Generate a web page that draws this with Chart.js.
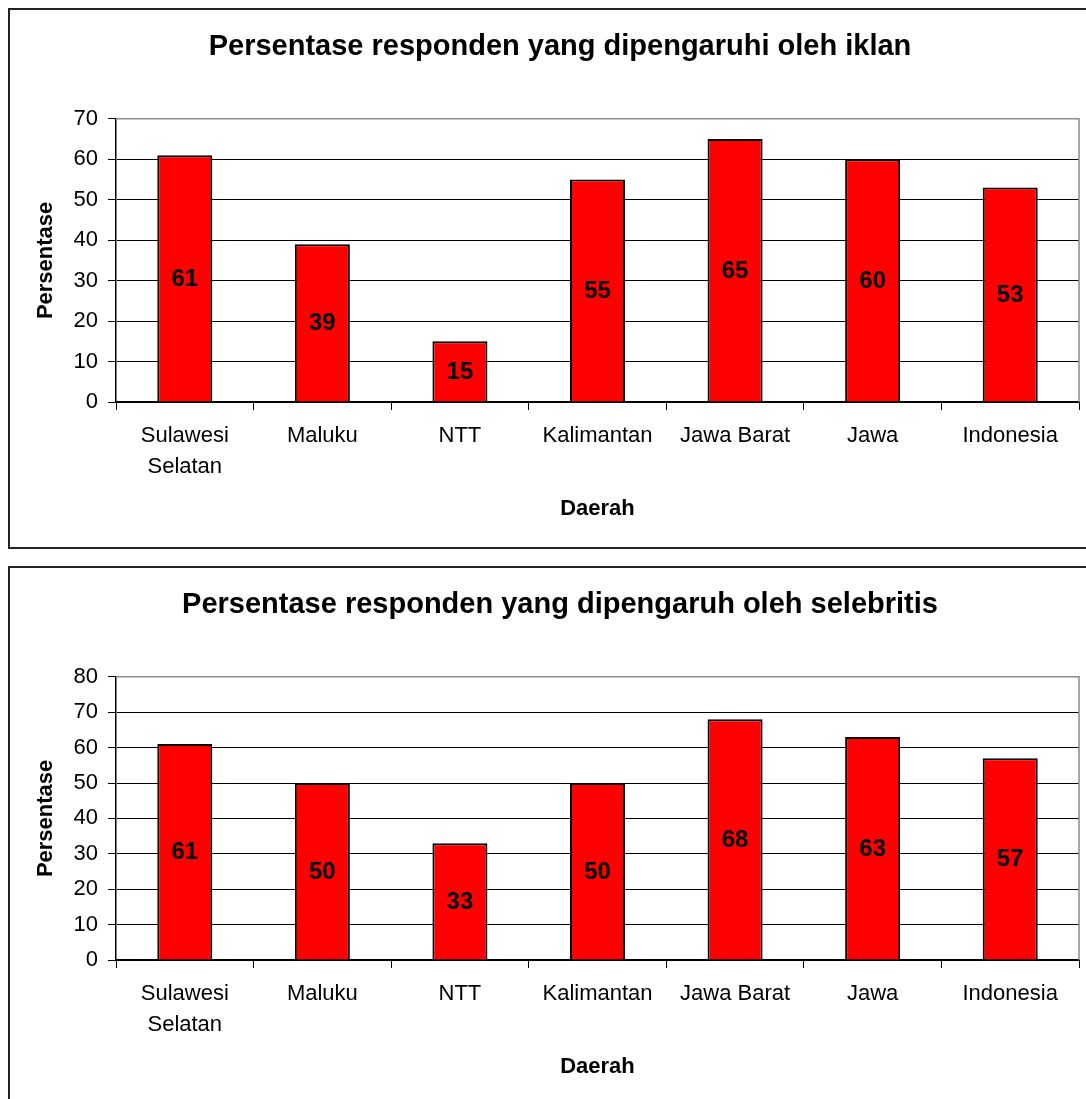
<!DOCTYPE html>
<html>
<head>
<meta charset="utf-8">
<title>Persentase responden</title>
<script src="https://cdn.jsdelivr.net/npm/chart.js@4.4.1/dist/chart.umd.min.js"></script>
<style>
  html, body { margin: 0; padding: 0; background: #fff; overflow: hidden; width: 1086px; height: 1099px; }
  .panel { position: absolute; left: 0; width: 1120px; height: 549px; }
  .panel .frame { position: absolute; left: 8px; top: 8px; width: 1110px; height: 537px; border: 2px solid #222; }
  .panel canvas { position: absolute; left: 0; top: 0; }
</style>
</head>
<body>
<div class="panel" style="top:0">
  <div class="frame"></div>
  <canvas id="iklan" width="1120" height="549"></canvas>
</div>
<div class="panel" style="top:558px">
  <div class="frame"></div>
  <canvas id="selebritis" width="1120" height="549"></canvas>
</div>
<script>
// Regions shown on the category axis
const daerah = [['Sulawesi', 'Selatan'], 'Maluku', 'NTT', 'Kalimantan', 'Jawa Barat', 'Jawa', 'Indonesia'];

// Percentage of respondents influenced by advertising
const persenIklan = [61, 39, 15, 55, 65, 60, 53];

// Percentage of respondents influenced by celebrities
const persenSelebritis = [61, 50, 33, 50, 68, 63, 57];

// Value axis limits for each chart
const sumbuIklan = { max: 70, step: 10 };
const sumbuSelebritis = { max: 80, step: 10 };

const FONT = 'Arial, "Liberation Sans", Helvetica, sans-serif';

// Writes each bar's value in the middle of the bar
const barValueLabels = {
  id: 'barValueLabels',
  afterDatasetsDraw(chart) {
    const ctx = chart.ctx;
    ctx.save();
    ctx.font = 'bold 24px ' + FONT;
    ctx.fillStyle = '#000';
    ctx.textAlign = 'center';
    ctx.textBaseline = 'middle';
    chart.data.datasets.forEach((ds, di) => {
      chart.getDatasetMeta(di).data.forEach((bar, i) => {
        const p = bar.getCenterPoint();
        ctx.fillText(String(ds.data[i]), p.x, p.y + 1);
      });
    });
    ctx.restore();
  }
};

// Grey outline along the top and right edges of the plot area
const plotOutline = {
  id: 'plotOutline',
  beforeDatasetsDraw(chart) {
    const a = chart.chartArea;
    const ctx = chart.ctx;
    ctx.save();
    ctx.strokeStyle = '#8c8c8c';
    ctx.lineWidth = 1.5;
    ctx.beginPath();
    ctx.moveTo(a.left, a.top);
    ctx.lineTo(a.right, a.top);
    ctx.lineTo(a.right, a.bottom);
    ctx.stroke();
    ctx.restore();
  }
};

function buatGrafik(id, judul, nilai, sumbu) {
  return new Chart(document.getElementById(id), {
    type: 'bar',
    data: {
      labels: daerah,
      datasets: [{
        data: nilai,
        backgroundColor: '#ff0000',
        borderColor: '#000',
        borderWidth: 2,
        barPercentage: 0.4,
        categoryPercentage: 1.0,
        yAxisID: 'y'
      }]
    },
    options: {
      responsive: false,
      animation: false,
      layout: { padding: 0 },
      plugins: {
        legend: { display: false },
        tooltip: { enabled: false },
        title: {
          display: true,
          text: judul,
          color: '#000',
          font: { family: FONT, size: 29, weight: 'bold', lineHeight: 1.2 },
          padding: { top: 30, bottom: 54 }
        }
      },
      scales: {
        x: {
          type: 'category',
          offset: true,
          grid: {
            display: true,
            offset: true,
            drawOnChartArea: false,
            drawTicks: true,
            tickLength: 8,
            color: '#000',
            lineWidth: 1
          },
          border: { display: true, color: '#000', width: 1.5 },
          ticks: {
            color: '#000',
            font: { family: FONT, size: 22, lineHeight: 1.4 },
            padding: 11,
            maxRotation: 0,
            autoSkip: false
          },
          title: {
            display: true,
            text: 'Daerah',
            color: '#000',
            font: { family: FONT, size: 22, weight: 'bold', lineHeight: 1.2 },
            padding: { top: 0, bottom: 27 }
          },
          afterFit(scale) { scale.height = 147; }
        },
        y: {
          position: 'left',
          min: 0,
          max: sumbu.max,
          ticks: {
            stepSize: sumbu.step,
            color: '#000',
            font: { family: FONT, size: 22 },
            padding: 10
          },
          grid: {
            color: ctx => (ctx.tick && ctx.tick.value === sumbu.max) ? 'rgba(0,0,0,0)' : '#000',
            lineWidth: 1,
            tickLength: 8,
            tickColor: '#000'
          },
          border: { display: true, color: '#000', width: 1.5 },
          title: {
            display: true,
            text: 'Persentase',
            color: '#000',
            font: { family: FONT, size: 22, weight: 'bold', lineHeight: 1.2 },
            padding: { top: 33, bottom: 0 }
          },
          afterFit(scale) { scale.width = 116; }
        },
        kanan: {
          position: 'right',
          display: true,
          ticks: { display: false },
          grid: { display: false },
          border: { display: false },
          afterFit(scale) { scale.width = 41; }
        }
      }
    },
    plugins: [plotOutline, barValueLabels]
  });
}

buatGrafik('iklan', 'Persentase responden yang dipengaruhi oleh iklan', persenIklan, sumbuIklan);
buatGrafik('selebritis', 'Persentase responden yang dipengaruh oleh selebritis', persenSelebritis, sumbuSelebritis);
</script>
</body>
</html>
